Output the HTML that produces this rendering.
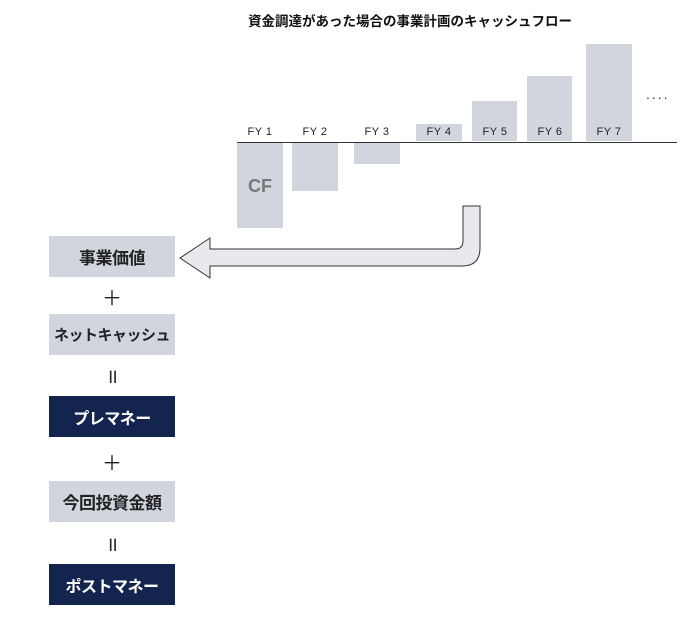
<!DOCTYPE html><html><head><meta charset="utf-8"><style>
body{margin:0;width:691px;height:618px;background:#fff;position:relative;font-family:"Liberation Sans","Noto Sans CJK JP",sans-serif;overflow:hidden}
.a{position:absolute}
.bar{position:absolute;background:#d0d5de}
.lb{position:absolute;font-size:11px;color:#222;width:50px;text-align:center;top:126px;letter-spacing:0.5px}
.box{position:absolute;left:49px;width:126px;height:41px;display:flex;align-items:center;justify-content:center;font-weight:bold;font-size:16px;white-space:nowrap;letter-spacing:-0.5px}
.g{background:#d0d5de;color:#222}
.n{background:#13254f;color:#fff}
.op{position:absolute;left:49px;width:126px;text-align:center;font-size:20px;color:#222}
</style></head><body>
<div class="a" style="left:225px;top:10px;width:370px;text-align:center;font-weight:bold;font-size:13.5px;color:#111">資金調達があった場合の事業計画のキャッシュフロー</div>
<div class="bar" style="left:237px;top:143px;width:46px;height:85px"></div>
<div class="a" style="left:237px;top:176px;width:46px;text-align:center;font-size:18px;font-weight:bold;color:#777">CF</div>
<div class="bar" style="left:292px;top:143px;width:46px;height:48px"></div>
<div class="bar" style="left:354px;top:143px;width:46px;height:21px"></div>
<div class="bar" style="left:416px;top:124px;width:46px;height:17px"></div>
<div class="bar" style="left:472px;top:101px;width:45px;height:40px"></div>
<div class="bar" style="left:527px;top:76px;width:45px;height:65px"></div>
<div class="bar" style="left:586px;top:44px;width:46px;height:97px"></div>
<div class="a" style="left:237px;top:142px;width:440px;height:1px;background:#333"></div>
<div class="lb" style="left:235px">FY 1</div>
<div class="lb" style="left:290px">FY 2</div>
<div class="lb" style="left:352px">FY 3</div>
<div class="lb" style="left:414px">FY 4</div>
<div class="lb" style="left:470px">FY 5</div>
<div class="lb" style="left:525px">FY 6</div>
<div class="lb" style="left:584px">FY 7</div>
<div class="a" style="left:646px;top:86px;font-size:14px;color:#333;letter-spacing:2px">....</div>
<svg class="a" style="left:0;top:0" width="691" height="618">
<path d="M463,206 L480,206 L480,248 Q480,266 462,266 L210,266 L210,278 L180,258 L210,238 L210,249 L455,249 Q463,249 463,241 Z" fill="#e8e9ec" stroke="#333" stroke-width="1"/>
</svg>
<div class="box g" style="top:236px;font-size:17px">事業価値</div>
<div class="op" style="top:282px">＋</div>
<div class="box g" style="top:314px;font-size:15px">ネットキャッシュ</div>
<div class="op" style="top:362px">॥</div>
<div class="box n" style="top:396px">プレマネー</div>
<div class="op" style="top:447px">＋</div>
<div class="box g" style="top:481px;font-size:17px">今回投資金額</div>
<div class="op" style="top:530px">॥</div>
<div class="box n" style="top:564px">ポストマネー</div>
</body></html>
